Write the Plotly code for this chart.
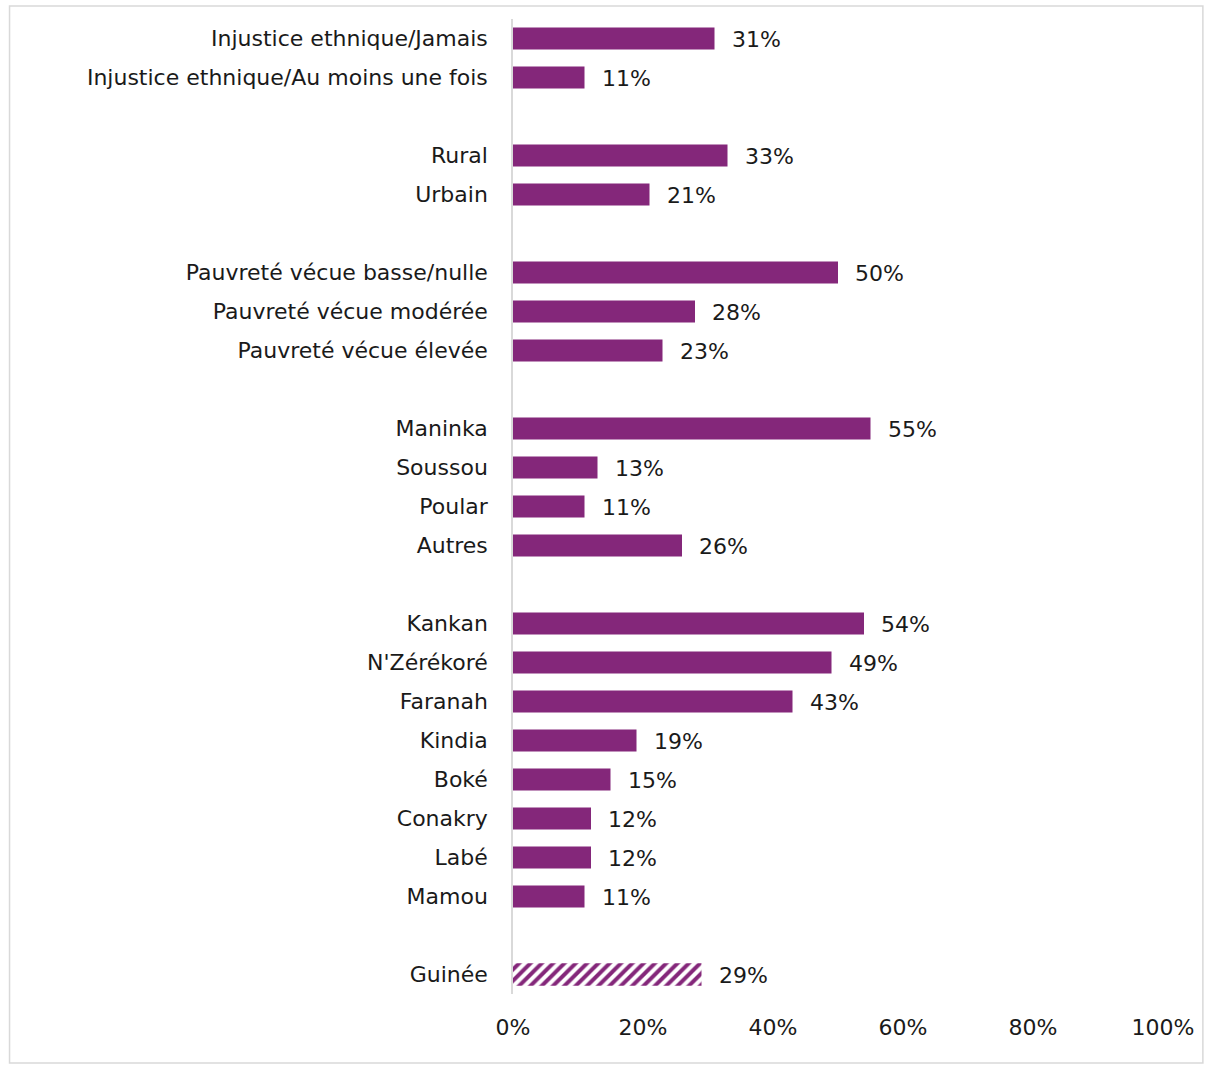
import plotly.graph_objects as go

# Groups of categories (top to bottom) with their shares in percent
group_labels = [
    ["Injustice ethnique/Jamais", "Injustice ethnique/Au moins une fois"],
    ["Rural", "Urbain"],
    ["Pauvreté vécue basse/nulle", "Pauvreté vécue modérée", "Pauvreté vécue élevée"],
    ["Maninka", "Soussou", "Poular", "Autres"],
    ["Kankan", "N'Zérékoré", "Faranah", "Kindia", "Boké", "Conakry", "Labé", "Mamou"],
    ["Guinée"],
]
group_values = [
    [31, 11],
    [33, 21],
    [50, 28, 23],
    [55, 13, 11, 26],
    [54, 49, 43, 19, 15, 12, 12, 11],
    [29],
]
x_ticks = [0, 20, 40, 60, 80, 100]
x_tick_text = ["0%", "20%", "40%", "60%", "80%", "100%"]

PURPLE = "#84277A"
FONT = "DejaVu Sans"
FS = 22

# Lay the groups out row by row, leaving one empty row between groups
rows_lbl, rows_val, rows_pos = [], [], []
pos = 0
for gi, (labs, vals) in enumerate(zip(group_labels, group_values)):
    if gi > 0:
        pos += 1
    for lab, v in zip(labs, vals):
        rows_lbl.append(lab)
        rows_val.append(v)
        rows_pos.append(pos)
        pos += 1
n_rows = pos

total_lbl = rows_lbl[-1]
main = [(l, v, p) for l, v, p in zip(rows_lbl, rows_val, rows_pos) if l != total_lbl]
tot = [(l, v, p) for l, v, p in zip(rows_lbl, rows_val, rows_pos) if l == total_lbl]

fig = go.Figure()
fig.add_trace(go.Bar(
    orientation="h",
    x=[v for _, v, _ in main],
    y=[p for _, _, p in main],
    width=0.56,
    marker=dict(color=PURPLE, line=dict(width=0)),
    hoverinfo="skip",
))
fig.add_trace(go.Bar(
    orientation="h",
    x=[v for _, v, _ in tot],
    y=[p for _, _, p in tot],
    width=0.58,
    marker=dict(
        color="white",
        line=dict(width=0),
        pattern=dict(shape="/", fgcolor=PURPLE, bgcolor="white", fgopacity=1,
                     size=8, solidity=0.5),
    ),
    hoverinfo="skip",
))

# Value labels to the right of each bar
for l, v, p in zip(rows_lbl, rows_val, rows_pos):
    fig.add_annotation(
        x=v, y=p, text=f"{v}%", showarrow=False,
        xanchor="left", yanchor="middle", xshift=15, yshift=-1,
        font=dict(family=FONT, size=FS, color="#1a1a1a"),
    )

L, R, T, B = 513, 41, 19, 71
W, H = 1206, 1065
pw, ph = W - L - R, H - T - B

# Thin grey frame around the whole chart
fig.add_shape(
    type="rect", xref="paper", yref="paper",
    x0=(8 - L) / pw, x1=(1205 - L) / pw,
    y0=(H - B - 1063) / ph, y1=(H - B - 6) / ph,
    line=dict(color="#d9d9d9", width=1.5), fillcolor="rgba(0,0,0,0)", layer="below",
)

fig.update_layout(
    width=W, height=H,
    margin=dict(l=L, r=R, t=T, b=B),
    paper_bgcolor="white", plot_bgcolor="white",
    showlegend=False, barmode="overlay",
    font=dict(family=FONT, size=FS, color="#1a1a1a"),
    xaxis=dict(
        range=[0, 100], tickmode="array", tickvals=x_ticks, ticktext=x_tick_text,
        showgrid=False, zeroline=False, showline=False,
        ticks="", ticklabelstandoff=18,
        tickfont=dict(family=FONT, size=FS, color="#1a1a1a"),
        fixedrange=True,
    ),
    yaxis=dict(
        range=[n_rows - 0.5, -0.5],
        tickmode="array", tickvals=rows_pos, ticktext=rows_lbl,
        showgrid=False, zeroline=False,
        showline=True, linecolor="#d9d9d9", linewidth=1.5,
        ticks="", ticklabelstandoff=19,
        tickfont=dict(family=FONT, size=FS, color="#1a1a1a"),
        fixedrange=True,
    ),
)

fig.write_html("out.html")
